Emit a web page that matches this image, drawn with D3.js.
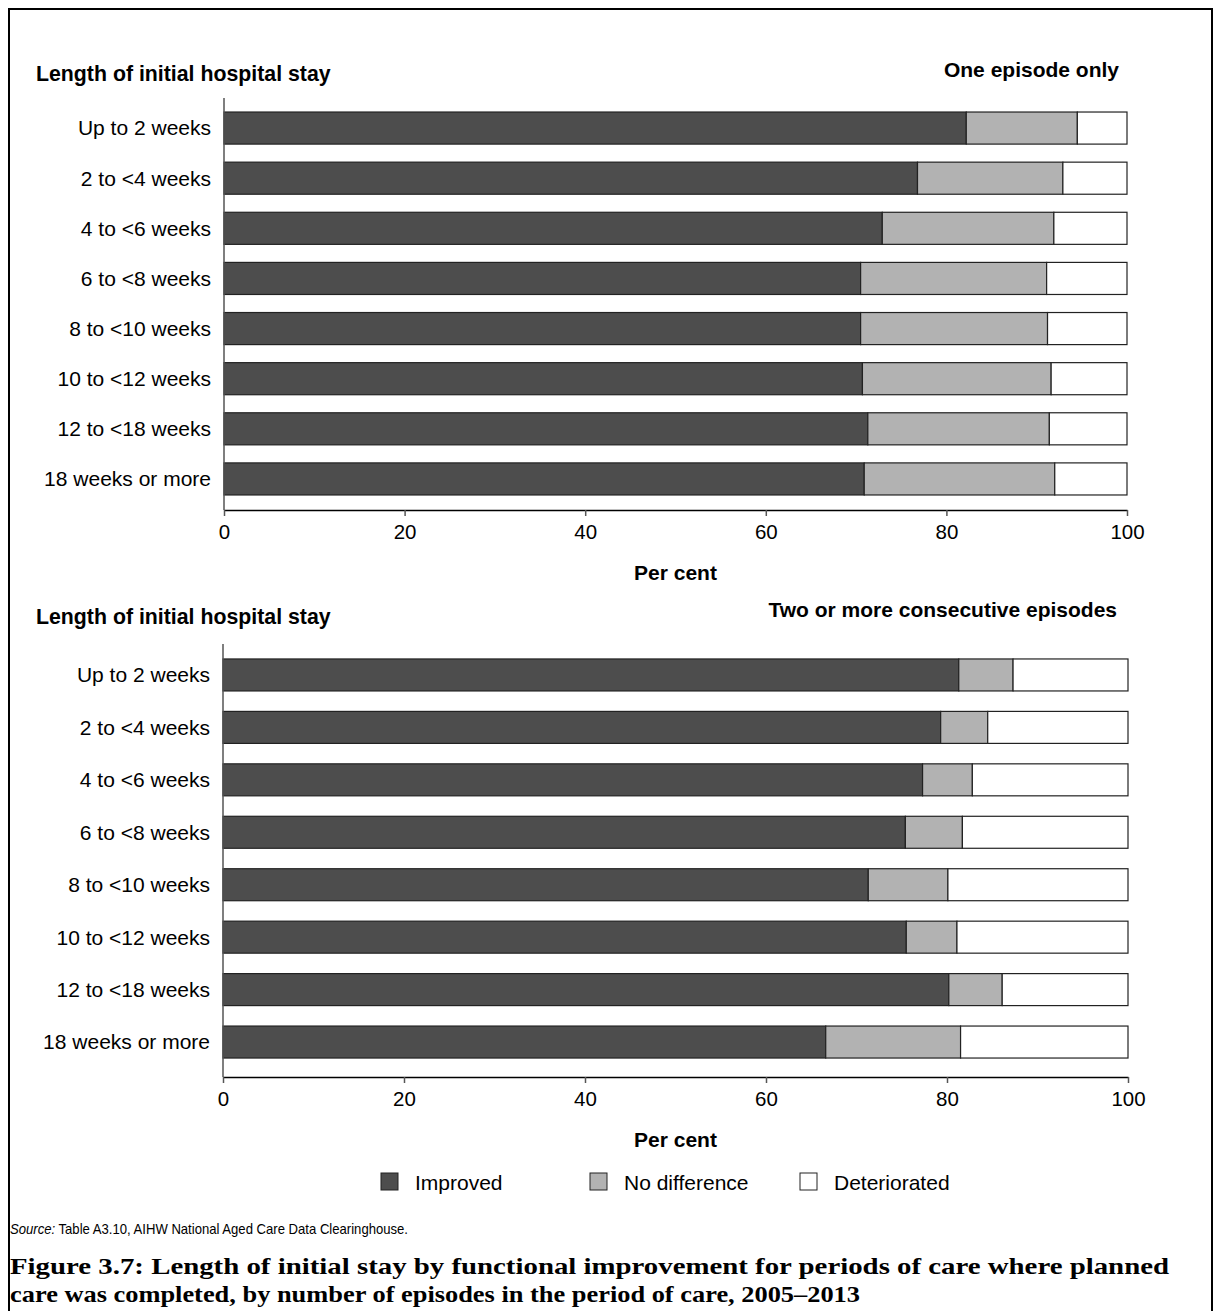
<!DOCTYPE html>
<html><head><meta charset="utf-8">
<script src="https://cdn.jsdelivr.net/npm/d3@7"></script>
<style>body{margin:0;background:#fff}svg{display:block;font-family:"Liberation Sans",Arial,sans-serif}</style>
</head><body><svg id="c" width="1214" height="1311"></svg>
<script>
const categories = ["Up to 2 weeks","2 to <4 weeks","4 to <6 weeks","6 to <8 weeks","8 to <10 weeks","10 to <12 weeks","12 to <18 weeks","18 weeks or more"];
const seriesNames = ["Improved","No difference","Deteriorated"];
const seriesColors = ["#4d4d4d","#b2b2b2","#ffffff"];
// One episode only
const oneImproved     = [82.2,76.8,72.9,70.5,70.5,70.7,71.3,70.9];
const oneNoDifference = [12.3,16.1,19.0,20.6,20.7,20.9,20.1,21.1];
const oneDeteriorated = [5.5,7.1,8.1,8.9,8.8,8.4,8.6,8.0];
// Two or more consecutive episodes
const twoImproved     = [81.3,79.3,77.3,75.4,71.3,75.5,80.2,66.6];
const twoNoDifference = [6.0,5.2,5.5,6.3,8.8,5.6,5.9,14.9];
const twoDeteriorated = [12.7,15.5,17.2,18.3,19.9,18.9,13.9,18.5];
const xTicks = [0,20,40,60,80,100];

const svg = d3.select("#c");
// frame
svg.append("path").attr("d","M9,1311 V9 H1212 V1311").attr("fill","none").attr("stroke","#000").attr("stroke-width",2);

function panel(cfg){
  const g = svg.append("g");
  const x = d3.scaleLinear().domain([0,100]).range([cfg.x0,cfg.x1]);
  const y = d3.scaleBand().domain(categories).range([cfg.yTop,cfg.yBot]).paddingInner(cfg.pad).paddingOuter(cfg.padOuter);
  const stackData = categories.map((c,i)=>({cat:c, Improved:cfg.data[0][i], "No difference":cfg.data[1][i], Deteriorated:cfg.data[2][i]}));
  const stacked = d3.stack().keys(seriesNames)(stackData);
  stacked.forEach((s,si)=>{
    g.append("g").selectAll("rect").data(s).join("rect")
      .attr("x",d=>x(d[0])).attr("width",d=>x(Math.min(d[1],100))-x(d[0]))
      .attr("y",d=>y(d.data.cat)).attr("height",y.bandwidth())
      .attr("fill",seriesColors[si]).attr("stroke","#222").attr("stroke-width",1.2);
  });
  g.append("line").attr("x1",cfg.x0).attr("x2",cfg.x0).attr("y1",cfg.yTop-5).attr("y2",cfg.axisY).attr("stroke","#555").attr("stroke-width",1.5);
  g.selectAll("text.cat").data(categories).join("text").attr("class","cat")
    .attr("x",cfg.x0-13).attr("y",d=>y(d)+y.bandwidth()/2).attr("dy","0.35em")
    .attr("text-anchor","end").attr("font-size",21).attr("fill","#000").text(d=>d);
  const ax = g.append("g").attr("transform",`translate(0,${cfg.axisY})`)
    .call(d3.axisBottom(x).tickValues(xTicks).tickSize(6).tickSizeOuter(0).tickPadding(8));
  ax.select(".domain").attr("stroke","#000").attr("stroke-width",1.5);
  ax.selectAll(".tick line").attr("stroke","#555").attr("stroke-width",1.5);
  ax.selectAll("text").attr("font-size",20.5).attr("font-family","Liberation Sans, Arial, sans-serif").attr("fill","#000");
  g.append("text").attr("x",(cfg.x0+cfg.x1)/2).attr("y",cfg.axisY+70).attr("text-anchor","middle")
    .attr("font-size",21).attr("font-weight","bold").text("Per cent");
  g.append("text").attr("x",36).attr("y",cfg.titleY).attr("font-size",21.3).attr("font-weight","bold").text("Length of initial hospital stay");
  g.append("text").attr("x",cfg.subX).attr("y",cfg.subY).attr("text-anchor","end").attr("font-size",21).attr("font-weight","bold").text(cfg.sub);
}

panel({x0:224,x1:1127,yTop:103,yBot:504,pad:0.36,padOuter:0.18,axisY:510,titleY:81,subX:1119,subY:77,sub:"One episode only",
  data:[oneImproved,oneNoDifference,oneDeteriorated]});
panel({x0:223,x1:1128,yTop:649,yBot:1068,pad:0.39,padOuter:0.19,axisY:1077,titleY:624,subX:1117,subY:617,sub:"Two or more consecutive episodes",
  data:[twoImproved,twoNoDifference,twoDeteriorated]});

// legend
const legX = [381,590,800];
const leg = svg.append("g");
seriesNames.forEach((n,i)=>{
  leg.append("rect").attr("x",legX[i]).attr("y",1173).attr("width",17).attr("height",17)
    .attr("fill",seriesColors[i]).attr("stroke","#222").attr("stroke-width",1);
  leg.append("text").attr("x",legX[i]+34).attr("y",1183).attr("dy","0.35em").attr("font-size",21).text(n);
});

// source
const src = svg.append("text").attr("x",10).attr("y",1234).attr("font-size",14.5)
  .attr("textLength",398).attr("lengthAdjust","spacingAndGlyphs");
src.append("tspan").attr("font-style","italic").text("Source:");
src.append("tspan").text(" Table A3.10, AIHW National Aged Care Data Clearinghouse.");

// caption
const cap = ["Figure 3.7: Length of initial stay by functional improvement for periods of care where planned",
             "care was completed, by number of episodes in the period of care, 2005\u20132013"];
const capW = [1159, 850];
cap.forEach((t,i)=>{
  svg.append("text").attr("x",10).attr("y",1274+i*28).attr("font-family","Liberation Serif, serif")
    .attr("font-weight","bold").attr("font-size",24).attr("textLength",capW[i]).attr("lengthAdjust","spacingAndGlyphs").text(t);
});
</script></body></html>
